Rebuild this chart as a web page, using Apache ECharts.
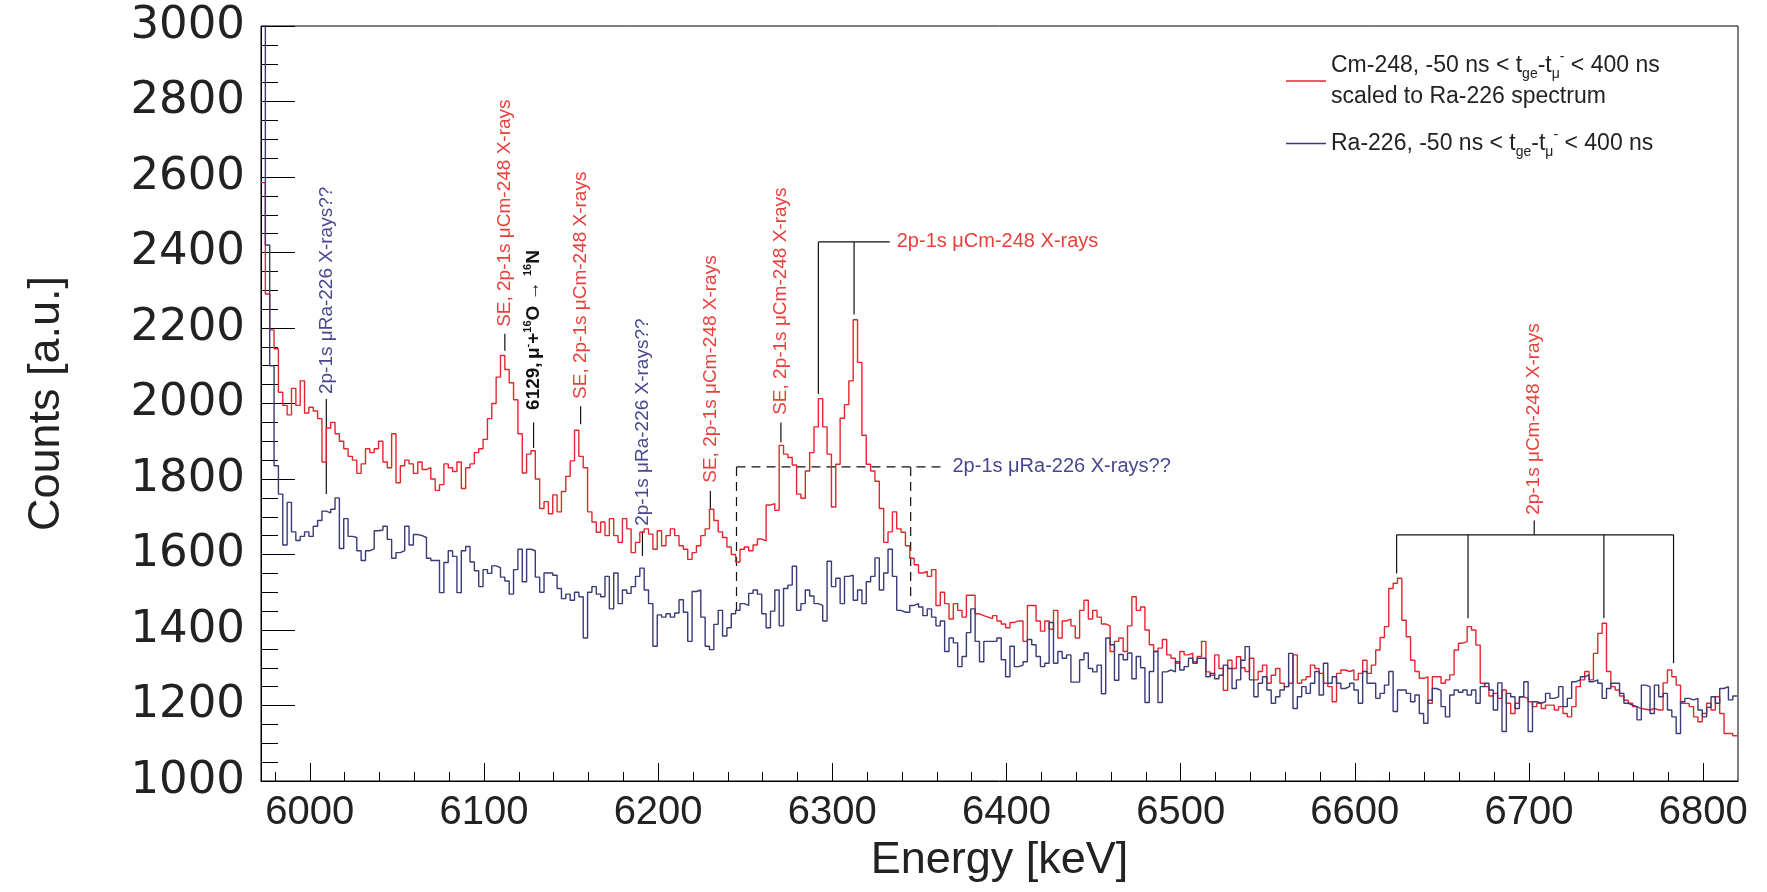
<!DOCTYPE html>
<html>
<head>
<meta charset="utf-8">
<title>Cm-248 / Ra-226 spectrum</title>
<script src="https://cdn.jsdelivr.net/npm/echarts@6.0.0/dist/echarts.min.js"></script>
<style>
  html, body { margin: 0; padding: 0; background: #fff; }
  #chart { width: 1767px; height: 892px; }
</style>
</head>
<body>
<div id="chart"></div>
<script>
'use strict';
// histogram binning (keV)
var binStart = 5972;
var binWidth = 2.5;

// Cm-248, scaled to Ra-226 spectrum
var cmCounts = [
  2585, 2290, 2195, 2145, 2030, 1995, 1970, 2040, 1995, 2060, 1975, 1990, 1980, 1960, 1845, 1935, 1950, 1920, 1900, 1880,
  1860, 1850, 1815, 1840, 1880, 1870, 1880, 1900, 1845, 1830, 1920, 1790, 1835, 1850, 1840, 1815, 1845, 1825, 1830, 1800,
  1770, 1785, 1840, 1830, 1820, 1845, 1775, 1830, 1840, 1870, 1880, 1905, 1960, 2000, 2070,
  2127, 2090, 2055, 2010, 1920, 1816, 1866, 1875, 1800, 1722, 1740, 1708, 1758, 1713, 1767, 1807, 1848, 1929, 1860, 1830, 1713,
  1686, 1659, 1686, 1650, 1695, 1650, 1632, 1695, 1668, 1605, 1632, 1659, 1668, 1654, 1614, 1663, 1623, 1650, 1668, 1650,
  1623, 1614, 1587, 1605, 1623, 1650, 1668, 1720, 1690, 1660, 1645, 1620, 1600, 1580, 1614,
  1620, 1610, 1625, 1641, 1636, 1731, 1735, 1717, 1889, 1866, 1857, 1837, 1760, 1749, 1821, 1870, 1938, 2013, 1938, 1866,
  1726, 1839, 1961, 1997, 2060, 2222, 2109, 1916, 1839, 1821, 1794, 1722, 1632, 1660, 1713, 1668, 1659, 1623, 1590, 1573,
  1551, 1555, 1542, 1560, 1465, 1500, 1470, 1429, 1470, 1452, 1434, 1492, 1492, 1443, 1438, 1434, 1430,
  1438, 1424, 1416, 1406, 1420, 1424, 1424, 1370, 1465, 1465, 1424, 1397, 1424, 1402, 1452, 1379, 1424, 1429, 1411, 1379,
  1452, 1479, 1429, 1452, 1434, 1416, 1411, 1343, 1370, 1379, 1343, 1411, 1488, 1452, 1461, 1400, 1361, 1343, 1352, 1375,
  1334, 1325, 1312, 1343, 1334, 1339, 1316, 1330, 1370, 1289, 1280, 1334, 1298, 1240,
  1320, 1298, 1329, 1300, 1290, 1325, 1268, 1290, 1307, 1259, 1280, 1298, 1259, 1250, 1259, 1334, 1259, 1268, 1276, 1307,
  1298, 1285, 1259, 1250, 1210, 1285, 1294, 1290, 1294, 1268, 1285, 1320, 1285, 1307, 1347, 1380, 1409, 1510, 1524, 1537,
  1426, 1382, 1320, 1290, 1272, 1276, 1206, 1276, 1276, 1259, 1268, 1281, 1347, 1365, 1369, 1409,
  1400, 1360, 1259, 1250, 1225, 1232, 1219, 1241, 1206, 1179, 1206, 1223, 1219, 1210, 1197, 1206, 1192, 1201, 1201, 1188,
  1197, 1179, 1170, 1197, 1250, 1268, 1290, 1268, 1338, 1391, 1418, 1290, 1250, 1241, 1225, 1214, 1206, 1197, 1192, 1190,
  1188, 1192, 1188, 1188, 1260, 1294, 1276, 1254, 1206, 1205, 1197, 1170, 1157, 1179, 1206, 1188, 1223, 1179, 1126, 1126, 1120
];

// Ra-226
var raCounts = [
  3400, 2420, 2100, 1835, 1760, 1625, 1738, 1660, 1637, 1648, 1660, 1648, 1675, 1690, 1715, 1710, 1720, 1750, 1616, 1695,
  1648, 1645, 1610, 1584, 1610, 1615, 1663, 1665, 1675, 1640, 1590, 1605, 1610, 1675, 1625, 1653, 1650, 1645, 1590, 1584,
  1584, 1499, 1579, 1610, 1595, 1499, 1610, 1621, 1580, 1557, 1515, 1560, 1550, 1570, 1565,
  1540, 1530, 1495, 1560, 1614, 1528, 1614, 1610, 1540, 1500, 1551, 1551, 1545, 1510, 1483, 1495, 1479, 1500, 1488, 1379,
  1500, 1515, 1495, 1488, 1542, 1456, 1551, 1470, 1506, 1497, 1515, 1542, 1564, 1506, 1470, 1357, 1440, 1434, 1443, 1434,
  1445, 1480, 1447, 1370, 1502, 1506, 1434, 1357, 1348, 1415, 1452, 1384, 1406, 1443, 1452, 1470,
  1465, 1497, 1506, 1495, 1443, 1406, 1450, 1506, 1411, 1510, 1519, 1569, 1452, 1470, 1506, 1490, 1470, 1465, 1424, 1582,
  1515, 1537, 1470, 1542, 1545, 1479, 1506, 1470, 1528, 1542, 1591, 1506, 1551, 1614, 1542, 1452, 1447, 1447, 1465, 1470,
  1461, 1438, 1456, 1434, 1411, 1424, 1343, 1379, 1366, 1303, 1330, 1393, 1456, 1370, 1316, 1370, 1370,
  1370, 1379, 1321, 1276, 1357, 1303, 1307, 1316, 1375, 1361, 1330, 1303, 1312, 1420, 1312, 1343, 1325, 1334, 1262, 1262,
  1321, 1339, 1298, 1289, 1307, 1231, 1379, 1361, 1267, 1335, 1321, 1339, 1271, 1330, 1300, 1208, 1290, 1343, 1208, 1289,
  1294, 1289, 1316, 1294, 1303, 1325, 1312, 1325, 1325, 1276, 1285, 1271, 1280, 1307,
  1298, 1245, 1268, 1320, 1356, 1268, 1223, 1259, 1276, 1241, 1206, 1223, 1241, 1250, 1338, 1192, 1223, 1250, 1232, 1259,
  1290, 1228, 1312, 1259, 1276, 1259, 1245, 1250, 1259, 1241, 1206, 1290, 1259, 1259, 1219, 1232, 1254, 1290, 1184, 1241,
  1241, 1232, 1210, 1228, 1179, 1153, 1214, 1245, 1240, 1197, 1170, 1228, 1241, 1235, 1241, 1228,
  1241, 1206, 1250, 1259, 1241, 1188, 1260, 1131, 1232, 1223, 1192, 1223, 1263, 1131, 1210, 1206, 1210, 1232, 1219, 1223,
  1250, 1197, 1219, 1263, 1268, 1276, 1281, 1263, 1268, 1259, 1219, 1245, 1259, 1259, 1232, 1206, 1201, 1197, 1162, 1254,
  1250, 1179, 1254, 1223, 1232, 1188, 1170, 1126, 1210, 1219, 1215, 1219, 1188, 1170, 1195, 1223, 1206, 1245, 1250, 1215, 1225
];

var xMajorTicks = [6000, 6100, 6200, 6300, 6400, 6500, 6600, 6700, 6800];
var xMinorTicks = [];
for (var t = 5980; t <= 6800; t += 20) { xMinorTicks.push(t); }

var cmName = 'Cm-248';
var raName = 'Ra-226';

var RED = '#e3262e';
var NAVY = '#3a3a78';
var RED_TXT = '#e8403b';
var NAVY_TXT = '#474790';
var SANS = '"Liberation Sans", Arial, sans-serif';

// histogram bins -> step points (left edges + closing right edge)
function toSteps(counts) {
  var pts = counts.map(function (c, i) { return [binStart + i * binWidth, c]; });
  pts.push([binStart + counts.length * binWidth, counts[counts.length - 1]]);
  return pts;
}
function plain(v) { return String(v); }

var myChart = echarts.init(document.getElementById('chart'));

var option = {
  animation: false,
  backgroundColor: '#fff',
  grid: { left: 261, right: 29, top: 26, bottom: 111, show: true, borderColor: '#000', borderWidth: 1 },
  legend: {
    orient: 'vertical',
    left: 1281,
    top: 45,
    itemWidth: 40,
    itemHeight: 1.6,
    itemGap: 20,
    icon: 'rect',
    selectedMode: false,
    data: [cmName, raName],
    formatter: function (name) {
      if (name === cmName) {
        return '{t|Cm-248, -50 ns < t}{sub|ge}{t|-t}{sub|μ}{sup|-}{t| < 400 ns}\n{t|scaled to Ra-226 spectrum}';
      }
      return '{t|Ra-226, -50 ns < t}{sub|ge}{t|-t}{sub|μ}{sup|-}{t| < 400 ns}';
    },
    textStyle: {
      rich: {
        t: { fontFamily: SANS, fontSize: 23, lineHeight: 31, color: '#222' },
        sub: { fontFamily: SANS, fontSize: 14, lineHeight: 9, verticalAlign: 'bottom', color: '#222' },
        sup: { fontFamily: SANS, fontSize: 14, lineHeight: 15, verticalAlign: 'top', color: '#222' }
      }
    }
  },
  xAxis: [{
    type: 'value',
    min: 5972,
    max: 6820,
    name: 'Energy [keV]',
    nameLocation: 'middle',
    nameGap: 56,
    nameTextStyle: { fontFamily: SANS, fontSize: 45, color: '#222' },
    axisLine: { show: true, onZero: false, lineStyle: { color: '#000', width: 1 } },
    axisTick: { show: true, inside: true, length: 18, customValues: xMajorTicks, lineStyle: { color: '#000' } },
    axisLabel: { customValues: xMajorTicks, formatter: plain, fontFamily: SANS, fontSize: 40, color: '#222', margin: 12 },
    splitLine: { show: false }
  }, {
    type: 'value',
    min: 5972,
    max: 6820,
    position: 'bottom',
    axisLine: { show: false },
    axisTick: { show: true, inside: true, length: 9, customValues: xMinorTicks, lineStyle: { color: '#000' } },
    axisLabel: { show: false },
    splitLine: { show: false }
  }],
  yAxis: {
    type: 'value',
    min: 1000,
    max: 3000,
    interval: 200,
    name: 'Counts [a.u.]',
    nameLocation: 'middle',
    nameRotate: 90,
    nameGap: 192,
    nameTextStyle: { fontFamily: SANS, fontSize: 45, color: '#222' },
    axisLine: { show: true, lineStyle: { color: '#000', width: 1 } },
    axisTick: { show: true, inside: true, length: 34, lineStyle: { color: '#000' } },
    minorTick: { show: true, splitNumber: 4, length: 17, lineStyle: { color: '#000' } },
    axisLabel: { formatter: plain, fontFamily: '"DejaVu Sans", sans-serif', fontSize: 45, color: '#222', margin: 16 },
    splitLine: { show: false }
  },
  series: [{
    name: cmName,
    type: 'line',
    step: 'end',
    symbol: 'none',
    clip: true,
    color: RED,
    lineStyle: { color: RED, width: 1.4 },
    data: toSteps(cmCounts)
  }, {
    name: raName,
    type: 'line',
    step: 'end',
    symbol: 'none',
    clip: true,
    color: NAVY,
    lineStyle: { color: NAVY, width: 1.4 },
    data: toSteps(raCounts)
  }]
};
myChart.setOption(option);

// ---- annotations, anchored in data coordinates ----
var SE_TEXT = 'SE, 2p-1s μCm-248 X-rays';
var vNotes = [
  { e: 6009.5, base: 2025, tick: [2012, 1760], text: '2p-1s μRa-226 X-rays??', color: NAVY_TXT },
  { e: 6112, base: 2203, tick: [2185, 2140], text: SE_TEXT, color: RED_TXT },
  { e: 6128.5, base: 1983, tick: [1950, 1882], rich6129: true },
  { e: 6155.5, base: 2012, tick: [1993, 1945], text: SE_TEXT, color: RED_TXT },
  { e: 6191, base: 1676, tick: [1662, 1596], text: '2p-1s μRa-226 X-rays??', color: NAVY_TXT },
  { e: 6230, base: 1790, tick: [1768, 1722], text: SE_TEXT, color: RED_TXT },
  { e: 6270.5, base: 1970, tick: [1950, 1897], text: SE_TEXT, color: RED_TXT },
  { e: 6703, base: 1705, tick: null, text: '2p-1s μCm-248 X-rays', color: RED_TXT }
];
var hNotes = [
  { e: 6337, c: 2428, text: '2p-1s μCm-248 X-rays', color: RED_TXT },
  { e: 6369, c: 1832, text: '2p-1s μRa-226 X-rays??', color: NAVY_TXT }
];
var solidLines = [
  [[6292, 2428], [6333, 2428]],
  [[6292, 2428], [6292, 2025]],
  [[6312.5, 2428], [6312.5, 2236]],
  [[6624, 1652], [6783, 1652]],
  [[6624, 1652], [6624, 1550]],
  [[6665, 1652], [6665, 1431]],
  [[6743, 1652], [6743, 1431]],
  [[6783, 1652], [6783, 1312]],
  [[6703, 1652], [6703, 1690]]
];
var dashedLines = [
  [[6245, 1832], [6365, 1832]],
  [[6245, 1832], [6245, 1450]],
  [[6345, 1832], [6345, 1478]]
];

function px(e, c) {
  return myChart.convertToPixel({ xAxisIndex: 0, yAxisIndex: 0 }, [e, c]);
}
function lineEl(a, b, dashed) {
  var p1 = px(a[0], a[1]);
  var p2 = px(b[0], b[1]);
  return {
    type: 'line',
    silent: true,
    shape: { x1: p1[0], y1: p1[1], x2: p2[0], y2: p2[1] },
    style: { stroke: '#111', lineWidth: 1.2, lineDash: dashed ? [9, 6] : null }
  };
}

var elements = [];
solidLines.forEach(function (l) { elements.push(lineEl(l[0], l[1], false)); });
dashedLines.forEach(function (l) { elements.push(lineEl(l[0], l[1], true)); });

vNotes.forEach(function (n) {
  if (n.tick) { elements.push(lineEl([n.e, n.tick[0]], [n.e, n.tick[1]], false)); }
  var p = px(n.e, n.base);
  var style;
  if (n.rich6129) {
    style = {
      text: '{b|6129,} {n|μ}{sup|-}{n|+}{sup|16}{n|O → }{sup|16}{n|N}',
      x: 0, y: 0,
      align: 'left', verticalAlign: 'middle', textAlign: 'left', textVerticalAlign: 'middle',
      rich: {
        b: { fontFamily: SANS, fontSize: 19, fontWeight: 'bold', lineHeight: 22, fill: '#111', color: '#111' },
        n: { fontFamily: SANS, fontSize: 19, fontWeight: 'bold', lineHeight: 22, fill: '#111', color: '#111' },
        sup: { fontFamily: SANS, fontSize: 11, fontWeight: 'bold', lineHeight: 11, verticalAlign: 'top', fill: '#111', color: '#111' }
      }
    };
  } else {
    style = {
      text: n.text, x: 0, y: 0, fill: n.color,
      font: '19px "Liberation Sans"',
      align: 'left', verticalAlign: 'middle', textAlign: 'left', textVerticalAlign: 'middle'
    };
  }
  elements.push({ type: 'text', silent: true, x: p[0], y: p[1], rotation: Math.PI / 2, style: style });
});

hNotes.forEach(function (n) {
  var p = px(n.e, n.c);
  elements.push({
    type: 'text', silent: true, x: p[0], y: p[1],
    style: {
      text: n.text, x: 0, y: 0, fill: n.color,
      font: '20px "Liberation Sans"',
      align: 'left', verticalAlign: 'middle', textAlign: 'left', textVerticalAlign: 'middle'
    }
  });
});

myChart.setOption({ graphic: { elements: elements } });
</script>
</body>
</html>
